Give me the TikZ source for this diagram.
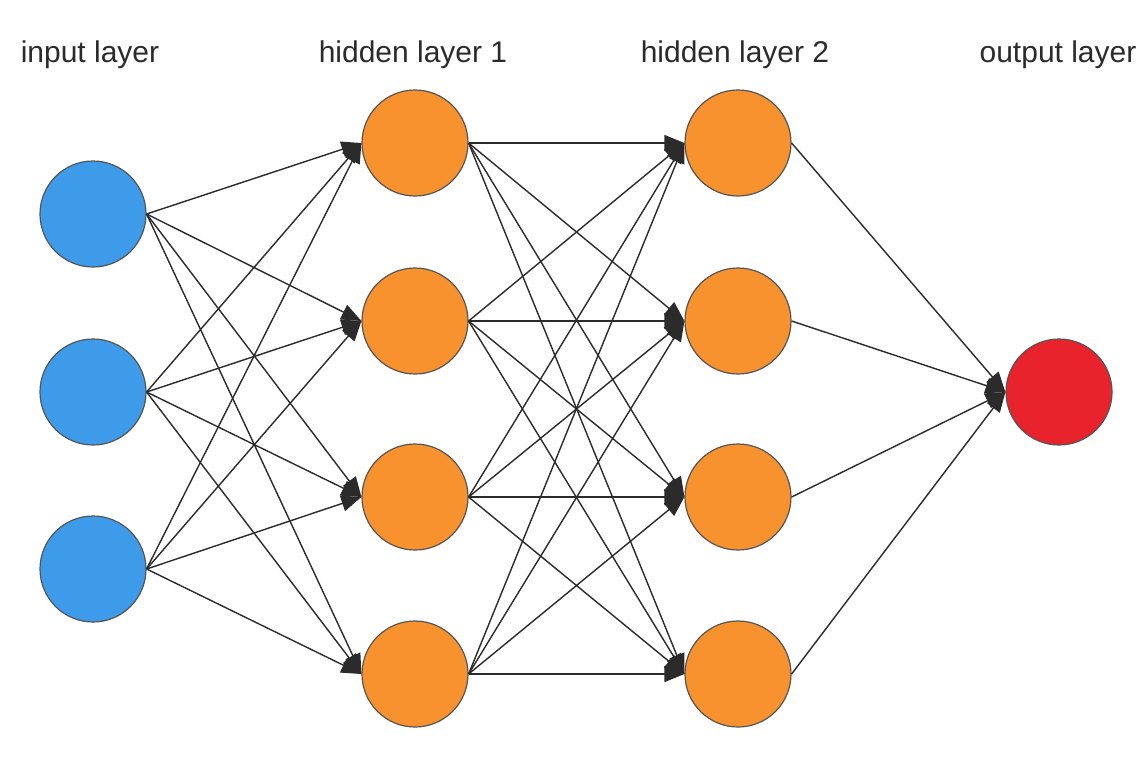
\documentclass[tikz,border=0pt]{standalone}
\usepackage{fontspec}
\setmainfont{Liberation Sans}
\usetikzlibrary{arrows.meta}
\definecolor{inblue}{HTML}{3D9BEA}
\definecolor{hidor}{HTML}{F7922F}
\definecolor{outred}{HTML}{E8232B}
\definecolor{edge}{HTML}{2B2B2B}
\begin{document}
\begin{tikzpicture}[x=1pt,y=-1pt,
  neuron/.style={circle,draw=edge!80,line width=1.2pt,minimum size=106pt,inner sep=0pt},
  lbl/.style={font=\fontsize{30}{36}\selectfont,text=edge},
  conn/.style={draw=edge,line width=1.4pt,-{Triangle[length=20pt,width=16pt]}}]
\useasboundingbox (0,0) rectangle (1148,761);
\fill[white] (0,0) rectangle (1148,761);
\node[lbl] at (90,55) {input layer};
\node[lbl] at (413,55) {hidden layer 1};
\node[lbl] at (735,55) {hidden layer 2};
\node[lbl] at (1058,55) {output layer};
\foreach \i/\y in {1/214,2/392,3/569} \node[neuron,fill=inblue] (i\i) at (93,\y) {};
\foreach \i/\y in {1/143,2/321,3/497,4/674} {
  \node[neuron,fill=hidor] (a\i) at (415,\y) {};
  \node[neuron,fill=hidor] (b\i) at (738,\y) {};
}
\node[neuron,fill=outred] (o) at (1059,392) {};
\foreach \s in {1,2,3} \foreach \t in {1,...,4} \draw[conn] (i\s.east) -- (a\t.west);
\foreach \s in {1,...,4} \foreach \t in {1,...,4} \draw[conn] (a\s.east) -- (b\t.west);
\foreach \s in {1,...,4} \draw[conn] (b\s.east) -- (o.west);
\end{tikzpicture}
\end{document}
